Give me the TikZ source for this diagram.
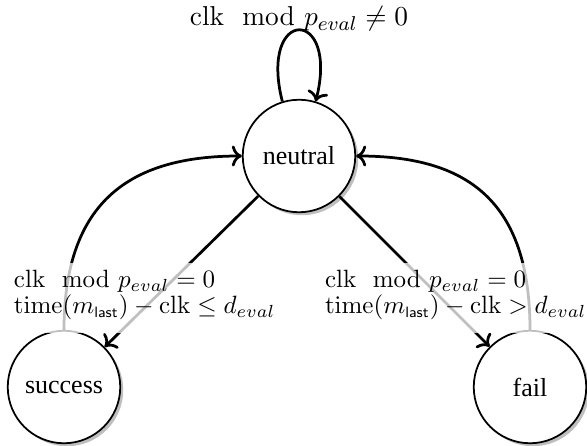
\documentclass[tikz,border=0pt]{standalone}
\usepackage{amsmath}
\usepackage[no-math]{fontspec}
\setmainfont{Liberation Serif}
\usetikzlibrary{arrows.meta,shadows}

% guard: clk mod p_eval
\newcommand{\clkmod}{\mathrm{clk}\mod{p_{eval}}}
% subscript of the last message
\newcommand{\lastsub}{\text{\fontsize{6}{6}\sffamily last}}

\begin{document}
\begin{tikzpicture}[
  x=0.4pt, y=-0.4pt,
  state/.style={circle, draw, line width=0.7pt, fill=white,
    minimum size=45pt, inner sep=0pt,
    font=\fontsize{10.4}{12}\selectfont,
    drop shadow={shadow xshift=1.2pt, shadow yshift=-1.2pt,
      fill=black!25, opacity=1}},
  trans/.style={line width=1.1pt, -{To}},
  cond/.style={fill=white, fill opacity=0.75, text opacity=1,
    align=left, inner xsep=3pt, inner ysep=3pt, text depth=5pt,
    font=\fontsize{9.9}{10.4}\selectfont, anchor=north west},
]
\useasboundingbox (0,0) rectangle (587,446);

% states
\node[state] (n) at (299,156) {neutral};
\node[state] (s) at (64,387) {success};
\node[state] (f) at (530,387) {fail};

% self loop on the neutral state
\node[anchor=base, font=\fontsize{10.8}{12}\selectfont] (cyc) at (299,26)
  {$\clkmod \neq 0$};
\draw[trans] (n.107) .. controls +(-24,-95) and +(24,-95) .. (n.73);

% transitions
\draw[trans] (s.north) .. controls +(0,-130) and +(-110,0) .. (n.west);
\draw[trans] (f.north) .. controls +(0,-130) and +(110,0) .. (n.east);
\draw[trans] (n) -- (s);
\draw[trans] (n) -- (f);

% guard conditions
\node[cond] (gs) at (6,262)
  {$\clkmod = 0$\\
   $\mathrm{time}(m_{\lastsub}) - \mathrm{clk} \leq d_{eval}$};
\node[cond] (gf) at (317,262)
  {$\clkmod = 0$\\
   $\mathrm{time}(m_{\lastsub}) - \mathrm{clk} > d_{eval}$};
\end{tikzpicture}
\end{document}
